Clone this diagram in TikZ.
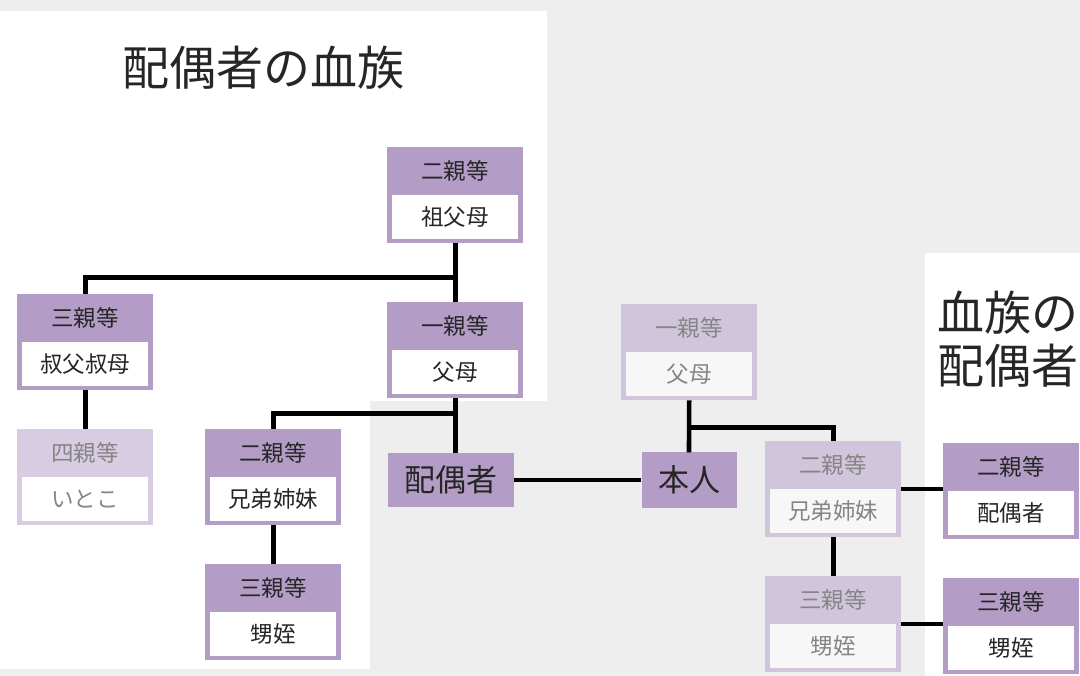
\documentclass[tikz,border=0pt]{standalone}
\usepackage{fontspec}
\setmainfont{Noto Sans CJK JP}
\usetikzlibrary{calc}
\definecolor{bggray}{HTML}{EEEEEE}
\definecolor{pmain}{HTML}{B39DC7}
\definecolor{pfadew}{HTML}{D8CCE2}
\definecolor{pfadeg}{HTML}{D1C5DC}
\definecolor{bodyfade}{HTML}{F7F7F7}
\definecolor{txtmain}{HTML}{262626}
\definecolor{txtfade}{HTML}{858585}
\tikzset{
  boxouter/.style={rectangle, minimum width=136pt, minimum height=96pt, inner sep=0pt, draw=none},
  boxinner/.style={rectangle, minimum width=126pt, minimum height=44pt, inner sep=0pt, draw=none},
  boxtext/.style={inner sep=0pt, font=\fontsize{22.5}{25}\selectfont},
  bigbox/.style={rectangle, fill=pmain, inner sep=0pt, text=txtmain, font=\fontsize{31}{34}\selectfont},
  titletext/.style={inner sep=0pt, text=txtmain, font=\fontsize{47}{53}\selectfont},
  conn/.style={line width=4.6pt, draw=black, line join=miter}
}
% name, left, top, header, body, header colour, body colour, text colour
\newcommand{\kinbox}[8]{%
  \node[boxouter, fill=#6, anchor=north west] (#1) at (#2,#3) {};
  \node[boxinner, fill=#7, anchor=north] (#1-b) at ([yshift=-48pt]#1.north) {};
  \node[boxtext, text=#8] (#1-h) at ([yshift=-24pt]#1.north) {#4};
  \node[boxtext, text=#8] (#1-t) at (#1-b) {#5};
}
\begin{document}
\begin{tikzpicture}[x=1pt,y=-1pt]
\useasboundingbox (0,0) rectangle (1080,676);
\fill[bggray] (0,0) rectangle (1080,676);
\fill[white] (0,11) rectangle (547,401);
\fill[white] (0,400) rectangle (370,669);
\fill[white] (925,253) rectangle (1080,676);

\node[titletext] (t1) at (263,68) {配偶者の血族};
\node[titletext, anchor=west, align=left] (t2) at (937,339) {血族の\\配偶者};

\kinbox{gp}{387}{147}{二親等}{祖父母}{pmain}{white}{txtmain}
\kinbox{uncle}{17}{294}{三親等}{叔父叔母}{pmain}{white}{txtmain}
\kinbox{fL}{387}{302}{一親等}{父母}{pmain}{white}{txtmain}
\kinbox{cousin}{17}{429}{四親等}{いとこ}{pfadew}{white}{txtfade}
\kinbox{sibL}{205}{429}{二親等}{兄弟姉妹}{pmain}{white}{txtmain}
\kinbox{nepL}{205}{564}{三親等}{甥姪}{pmain}{white}{txtmain}
\kinbox{fR}{621}{304}{一親等}{父母}{pfadeg}{bodyfade}{txtfade}
\kinbox{sibR}{765}{441}{二親等}{兄弟姉妹}{pfadeg}{bodyfade}{txtfade}
\kinbox{nepR}{765}{576}{三親等}{甥姪}{pfadeg}{bodyfade}{txtfade}
\kinbox{spR}{943}{443}{二親等}{配偶者}{pmain}{white}{txtmain}
\kinbox{nepS}{943}{578}{三親等}{甥姪}{pmain}{white}{txtmain}

\node[bigbox, minimum width=126pt, minimum height=54pt] (spouse) at (451,480) {配偶者};
\node[bigbox, minimum width=95pt, minimum height=55pt] (self) at (689,480) {本人};

\coordinate (j1) at ($(gp.south)!0.58!(fL.north)$);
\draw[conn] (gp.south) -- (fL.north);
\draw[conn] (uncle.north) |- (j1);
\draw[conn] (uncle.south) -- (cousin.north);
\draw[conn] (fL.south) -- (fL.south |- spouse.north);
\coordinate (j2) at ([yshift=-15pt]fL.south);
\draw[conn] (sibL.north) |- (j2);
\draw[conn] (sibL.south) -- (nepL.north);
\draw[conn] (spouse.east) -- (self.west);
\draw[conn] (fR.south) -- (self.north);
\coordinate (j3) at ([yshift=-27pt]fR.south);
\draw[conn] (sibR.north) |- (j3);
\draw[conn] (sibR.south) -- (nepR.north);
\draw[conn] (sibR.east |- sibR-b.north) -- (spR.west |- sibR-b.north);
\draw[conn] (nepR.east |- nepR-b.north) -- (nepS.west |- nepR-b.north);
\end{tikzpicture}
\end{document}
